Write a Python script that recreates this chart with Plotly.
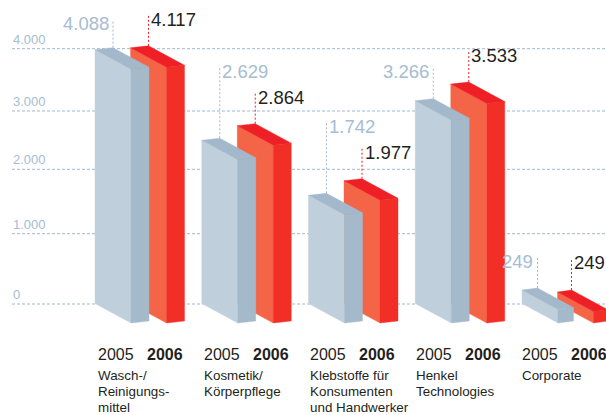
import plotly.graph_objects as go

# ---- data ----
years = ["2005", "2006"]
categories = [["Wasch-/", "Reinigungs-", "mittel"], ["Kosmetik/", "Körperpflege"],
              ["Klebstoffe für", "Konsumenten", "und Handwerker"], ["Henkel", "Technologies"], ["Corporate"]]
values_2005 = [4088, 2629, 1742, 3266, 249]
values_2006 = [4117, 2864, 1977, 3533, 249]
labels_2005 = ["4.088", "2.629", "1.742", "3.266", "249"]
labels_2006 = ["4.117", "2.864", "1.977", "3.533", "249"]
grid_labels = ["0", "1.000", "2.000", "3.000", "4.000"]
# the printed grid is unevenly spaced relative to the bars: where each line sits on the bar scale
grid_positions = [-8, 1124, 2161, 3100, 4103]

# ---- layout ----
W, H = 606, 415
BASE_PX = 303.5
PX_PER_UNIT = 0.0621
X0, STEP, WIDTH, RED_OFF = 95.0, 106.75, 36.0, 35.5
LABEL_X0, LABEL_STEP, YEAR_GAP = 98.4, 105.9, 49.4
PAD = 2.5  # inner padding of plotly annotations
DROP, RISE = 19.5, 2.0
DEPTH_2005 = [18, 18, 18, 18, 15.5]
DEPTH_2006 = [18, 18, 18, 18, 14]
# the small printed bars are drawn a little shorter than their scale height (pixels)
NUDGE_2005 = [0, 0, 0, 0, -2]
NUDGE_2006 = [0, 0, 0, 0, -4]
STEM_2005 = [28, 71, 71, 31, 31]
STEM_2006 = [30, 30, 30, 31, 32]
SIDE_2005 = ["l", "r", "r", "l", "l"]
SIDE_2006 = ["r", "r", "r", "r", "r"]
BLUE = dict(front="#bfcfdc", side="#a4bacb", top="#a3b9cb", stem="#a3b9cb", text="#a6bcd2")
RED = dict(front="#f46548", side="#f22f27", top="#ee1f25", stem="#ee1f25", text="#231f20")
GRID = "#a0b7cc"
FONT = "Liberation Sans"
DARK = "#231f20"


def px(n):
    """pixel offset -> units on the value axis"""
    return n / PX_PER_UNIT


fig = go.Figure()


def poly(xs, ys, color):
    fig.add_trace(go.Scatter(x=xs + xs[:1], y=ys + ys[:1], mode="lines", fill="toself",
                             fillcolor=color, line=dict(color=color, width=0.4),
                             hoverinfo="skip", showlegend=False))


def bar(x, v, d, c):
    r, s = x + WIDTH, x + WIDTH + d
    poly([x, x, r, r], [0, v, v - px(DROP), -px(DROP)], c["front"])
    poly([r, r, s, s], [-px(DROP), v - px(DROP), v - px(DROP - RISE), -px(DROP - RISE)], c["side"])
    poly([x, r, s, x + d], [v, v - px(DROP), v - px(DROP - RISE), v + px(RISE)], c["top"])


def stem(x, v, d, n, c, label, side):
    top = v + px(RISE + n)
    fig.add_trace(go.Scatter(x=[x + d, x + d], y=[v + px(RISE), top], mode="lines",
                             line=dict(color=c["stem"], width=1, dash="2px,2px"),
                             hoverinfo="skip", showlegend=False))
    fig.add_annotation(x=x + d + (-3 if side == "l" else 3), y=top - px(4), text=label, showarrow=False,
                       xanchor="right" if side == "l" else "left", yanchor="middle",
                       xshift=PAD - 2 if side == "l" else -PAD,
                       font=dict(family=FONT, size=18.5, color=c["text"]))


for pos in grid_positions:
    fig.add_shape(type="line", x0=12, x1=W, y0=pos, y1=pos, layer="below",
                  line=dict(color=GRID, width=1, dash="3px,2px"))
for pos, lab in zip(grid_positions, grid_labels):
    fig.add_annotation(x=13, y=pos, text=lab, showarrow=False, xanchor="left", yanchor="bottom", xshift=-PAD,
                       font=dict(family=FONT, size=13, color=BLUE["text"]))

for i in range(len(categories)):
    x = X0 + i * STEP
    lx = LABEL_X0 + i * LABEL_STEP
    v05 = values_2005[i] + px(NUDGE_2005[i])
    v06 = values_2006[i] + px(NUDGE_2006[i])
    bar(x + RED_OFF, v06, DEPTH_2006[i], RED)
    bar(x, v05, DEPTH_2005[i], BLUE)
    stem(x, v05, DEPTH_2005[i], STEM_2005[i], BLUE, labels_2005[i], SIDE_2005[i])
    stem(x + RED_OFF, v06, DEPTH_2006[i], STEM_2006[i], RED, labels_2006[i], SIDE_2006[i])
    fig.add_annotation(x=lx, y=1 - 354 / H, yref="paper", text=years[0], showarrow=False, xshift=-PAD,
                       xanchor="left", yanchor="middle", font=dict(family=FONT, size=16, color=DARK))
    fig.add_annotation(x=lx + YEAR_GAP, y=1 - 354 / H, yref="paper", text=f"<b>{years[1]}</b>", showarrow=False,
                       xshift=-PAD, xanchor="left", yanchor="middle", font=dict(family=FONT, size=16, color=DARK))
    for k, line in enumerate(categories[i]):
        fig.add_annotation(x=lx, y=1 - (375 + 16 * k) / H, yref="paper", text=line, showarrow=False, xshift=-PAD,
                           xanchor="left", yanchor="middle", font=dict(family=FONT, size=13.4, color=DARK))

fig.update_layout(
    width=W, height=H, margin=dict(l=0, r=0, t=0, b=0),
    paper_bgcolor="white", plot_bgcolor="white", showlegend=False,
    xaxis=dict(range=[0, W], visible=False, fixedrange=True),
    yaxis=dict(range=[-(H - BASE_PX) / PX_PER_UNIT, BASE_PX / PX_PER_UNIT], visible=False, fixedrange=True),
)
fig.write_html("out.html", config=dict(displayModeBar=False),
               post_script="document.body.style.margin='0';document.body.style.overflow='hidden';")
